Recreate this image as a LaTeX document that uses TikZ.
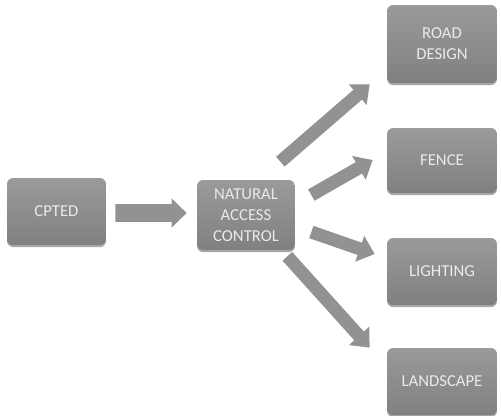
\documentclass[tikz,border=0pt]{standalone}
\usepackage{fontspec}
\setmainfont{Carlito}
\usetikzlibrary{arrows.meta,shadows}

\definecolor{boxgray}{HTML}{929292}
\definecolor{boxtop}{HTML}{9A9A9A}
\definecolor{boxbottom}{HTML}{808080}
\definecolor{textgray}{HTML}{EAEAEA}

\tikzset{
  box/.style={rectangle, rounded corners=3.5pt, top color=boxtop, bottom color=boxbottom,
    draw=none, text=textgray, align=center, font=\fontsize{9.5}{11.8}\selectfont,
    drop shadow={shadow xshift=0pt, shadow yshift=-1.2pt, opacity=0.35, fill=black}},
  sidebox/.style={box, minimum width=2.2cm},
  mainflow/.style={draw=boxgray, line width=10.2pt,
    -{Triangle[width=16pt,length=8.5pt]}},
  flow/.style={draw=boxgray, line width=7.4pt,
    -{Triangle[width=15pt,length=9pt]}}
}

\begin{document}
\begin{tikzpicture}[x=0.02cm,y=-0.02cm]
        \useasboundingbox (0,0) rectangle (501,416);
        % boxes
        \node[box, minimum width=1.98cm, minimum height=1.34cm] (cpted) at (56.5,211.5) {CPTED};
        \node[box, minimum width=1.96cm, minimum height=1.40cm] (nac) at (246,215) {NATURAL\\ACCESS\\CONTROL};
        \node[sidebox, minimum height=1.56cm] (road) at (442,44) {ROAD\\DESIGN};
        \node[sidebox, minimum height=1.30cm] (fence) at (442,160.5) {FENCE};
        \node[sidebox, minimum height=1.34cm] (lighting) at (442,271.5) {LIGHTING};
        \node[sidebox, minimum height=1.34cm] (landscape) at (442,381.5) {LANDSCAPE};
        % arrows
        \draw[mainflow] ([shift={(9,1.5)}]cpted.east) -- ([shift={(-10,-2)}]nac.west);
        \draw[flow] ([shift={(-15,-18)}]nac.north east) -- ([shift={(-17,1)}]road.south west);
        \draw[flow] ([shift={(16,-20)}]nac.east) -- ([shift={(-14,-0.5)}]fence.west);
        \draw[flow] ([shift={(16,17)}]nac.east) -- ([shift={(-12,-17.5)}]lighting.west);
        \draw[flow] ([shift={(-8,6)}]nac.south east) -- ([shift={(-17,0)}]landscape.north west);
      \end{tikzpicture}
\end{document}
